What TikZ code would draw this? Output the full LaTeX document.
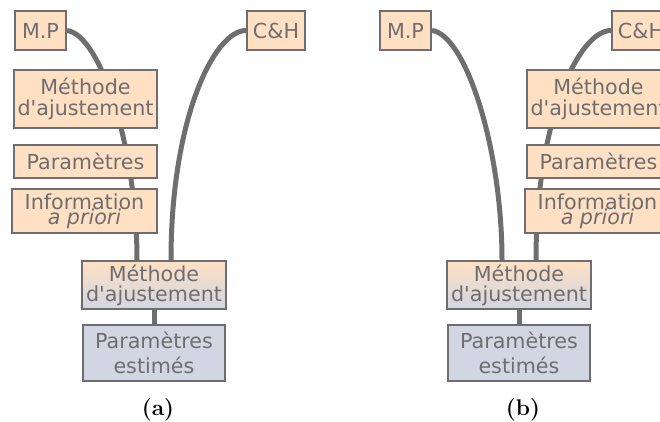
\documentclass[tikz,border=0pt]{standalone}
\usepackage{fontspec}
\usepackage{tikz}
\usetikzlibrary{positioning,backgrounds}
\newfontfamily\boxfont{DejaVu Sans}
\definecolor{peach}{HTML}{FFE0C3}
\definecolor{slate}{HTML}{D1D6E2}
\definecolor{ink}{HTML}{6E6E70}

\begin{document}
\begin{tikzpicture}[x=0.75pt,y=-0.75pt,
box/.style={draw=ink,line width=1.5pt,fill=peach,text=ink,inner sep=0pt,align=center,
  font=\boxfont\fontsize{15.5}{16}\selectfont},
estbox/.style={box,fill=slate},
fitbox/.style={box,top color=peach,bottom color=slate,middle color=peach!50!slate},
link/.style={draw=ink,line width=3.75pt},
caption/.style={font=\fontsize{17}{19}\selectfont\bfseries}]
\clip (0,0) rectangle (660,421);
% (a)
\node[box,minimum width=38.25pt,minimum height=29.25pt] (mpa) at (40.5,30.5) {M.P};
\node[box,minimum width=43.5pt,minimum height=29.25pt] (cha) at (276,30.5) {C\&H};
\node[box,minimum width=107.25pt,minimum height=43.5pt] (metha) at (85.5,99) {Méthode\\[0.3pt]d'ajustement};
\node[box,minimum width=107.25pt,minimum height=24.75pt] (para) [below=11.25pt of metha] {Paramètres};
\node[box,minimum width=108.75pt,minimum height=33pt] (infoa) at (84.5,211) {Information\\[-4.5pt]\itshape a priori};
\node[fitbox,minimum width=108pt,minimum height=36pt] (fita) at (154,285) {Méthode\\[-1pt]d'ajustement};
\node[estbox,minimum width=106.5pt,minimum height=42pt] (esta) [below=10.5pt of fita] {Paramètres\\[2.75pt]estimés};
\node[caption] (capa) at (158,410) {(a)};
% (b)
\node[box,minimum width=38.25pt,minimum height=29.25pt] (mpb) at (405.5,30.5) {M.P};
\node[box,minimum width=43.5pt,minimum height=29.25pt] (chb) at (641,30.5) {C\&H};
\node[box,minimum width=107.25pt,minimum height=43.5pt] (methb) at (598.5,99) {Méthode\\[0.3pt]d'ajustement};
\node[box,minimum width=107.25pt,minimum height=24.75pt] (parb) [below=11.25pt of methb] {Paramètres};
\node[box,minimum width=108.75pt,minimum height=33pt] (infob) at (597.5,211) {Information\\[-4.5pt]\itshape a priori};
\node[fitbox,minimum width=108pt,minimum height=36pt] (fitb) at (519,285) {Méthode\\[-1pt]d'ajustement};
\node[estbox,minimum width=106.5pt,minimum height=42pt] (estb) [below=10.5pt of fitb] {Paramètres\\[2.75pt]estimés};
\node[caption] (capb) at (523,410) {(b)};
% connectors behind the boxes
\begin{pgfonlayer}{background}
\draw[link] (mpa.east) .. controls +(34,4.5) and +(0,-111) .. ([xshift=-12.75pt]fita.north);
\draw[link] (cha.west) .. controls +(-32,0) and +(0,-141) .. ([xshift=12.75pt]fita.north);
\draw[link] (fita) -- (esta);
\draw[link] (mpb.east) .. controls +(34,4.5) and +(0,-111) .. ([xshift=-12.75pt]fitb.north);
\draw[link] (chb.west) .. controls +(-32,0) and +(0,-141) .. ([xshift=12.75pt]fitb.north);
\draw[link] (fitb) -- (estb);
\end{pgfonlayer}
\end{tikzpicture}
\end{document}
